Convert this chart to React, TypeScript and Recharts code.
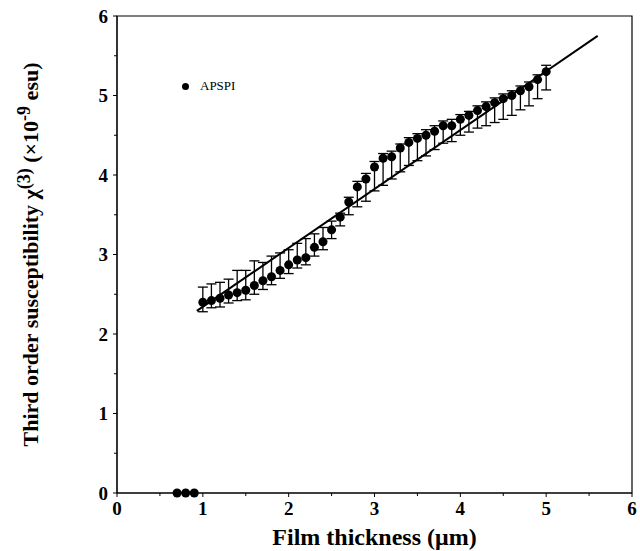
import { ScatterChart, Scatter, XAxis, YAxis, ErrorBar, ReferenceArea, Legend } from 'recharts';

const SERIF = '"Liberation Serif", "Times New Roman", serif';

// measured APSPI films
const thickness = [
  1.0, 1.1, 1.2, 1.3, 1.4, 1.5, 1.6, 1.7, 1.8, 1.9,
  2.0, 2.1, 2.2, 2.3, 2.4, 2.5, 2.6, 2.7, 2.8, 2.9,
  3.0, 3.1, 3.2, 3.3, 3.4, 3.5, 3.6, 3.7, 3.8, 3.9,
  4.0, 4.1, 4.2, 4.3, 4.4, 4.5, 4.6, 4.7, 4.8, 4.9, 5.0,
];
const chi3 = [
  2.40, 2.42, 2.45, 2.49, 2.52, 2.55, 2.61, 2.67, 2.72, 2.80,
  2.87, 2.93, 2.96, 3.09, 3.16, 3.31, 3.47, 3.66, 3.85, 3.95,
  4.10, 4.21, 4.23, 4.34, 4.41, 4.46, 4.50, 4.55, 4.62, 4.62,
  4.70, 4.75, 4.81, 4.86, 4.91, 4.96, 5.00, 5.06, 5.11, 5.20, 5.30,
];
// error bar ends
const barLow = [
  2.28, 2.33, 2.34, 2.39, 2.42, 2.43, 2.50, 2.56, 2.62, 2.70,
  2.76, 2.83, 2.87, 2.98, 3.06, 3.20, 3.36, 3.50, 3.60, 3.67,
  3.80, 3.87, 3.95, 4.04, 4.12, 4.18, 4.24, 4.32, 4.40, 4.42,
  4.50, 4.54, 4.59, 4.62, 4.66, 4.70, 4.75, 4.82, 4.87, 4.96, 5.07,
];
const barHigh = [
  2.59, 2.63, 2.65, 2.69, 2.80, 2.80, 2.92, 2.90, 2.98, 3.02,
  3.06, 3.14, 3.20, 3.26, 3.34, 3.42, 3.52, 3.72, 3.92, 4.02,
  4.17, 4.27, 4.30, 4.39, 4.47, 4.52, 4.57, 4.62, 4.68, 4.70,
  4.76, 4.80, 4.87, 4.92, 4.97, 5.02, 5.06, 5.12, 5.17, 5.26, 5.38,
];

// thin films with no signal
const zeroThickness = [0.7, 0.8, 0.9];
const zeroChi3 = [0, 0, 0];

// linear fit
const fitThickness = [0.93, 5.6];
const fitChi3 = [2.29, 5.75];

const axisTicks = [0, 0.5, 1, 1.5, 2, 2.5, 3, 3.5, 4, 4.5, 5, 5.5, 6];

const data = thickness.map((x, i) => ({
  x,
  y: chi3[i],
  err: [chi3[i] - barLow[i], barHigh[i] - chi3[i]],
}));
const zeroData = zeroThickness.map((x, i) => ({ x, y: zeroChi3[i] }));
const fitData = fitThickness.map((x, i) => ({ x, y: fitChi3[i] }));

const XTick = ({ x, y, payload }: any) => {
  const major = Number.isInteger(payload.value);
  return (
    <g>
      <line x1={x} x2={x} y1={y} y2={y + (major ? 4 : 3)} stroke="#000" />
      {major && (
        <text x={x} y={y + 22} textAnchor="middle" fontFamily={SERIF} fontWeight="bold" fontSize={19} fill="#000">
          {payload.value}
        </text>
      )}
    </g>
  );
};

const YTick = ({ x, y, payload }: any) => {
  const major = Number.isInteger(payload.value);
  return (
    <g>
      <line x1={x} x2={x - (major ? 4 : 3)} y1={y} y2={y} stroke="#000" />
      {major && (
        <text x={x - 9} y={y + 6.5} textAnchor="end" fontFamily={SERIF} fontWeight="bold" fontSize={19} fill="#000">
          {payload.value}
        </text>
      )}
    </g>
  );
};

const XLabel = ({ viewBox }: any) => (
  <text
    x={viewBox.x + viewBox.width / 2}
    y={viewBox.y + 52}
    textAnchor="middle"
    fontFamily={SERIF}
    fontWeight="bold"
    fontSize={24}
    fill="#000"
  >
    Film thickness (μm)
  </text>
);

const YLabel = ({ viewBox }: any) => {
  const cx = 38;
  const cy = viewBox.y + viewBox.height / 2;
  return (
    <text
      x={cx}
      y={cy}
      transform={`rotate(-90, ${cx}, ${cy})`}
      textAnchor="middle"
      fontFamily={SERIF}
      fontWeight="bold"
      fontSize={22}
      fill="#000"
    >
      Third order susceptibility χ
      <tspan dy={-8} fontSize={18}>(3)</tspan>
      <tspan dy={8}> (×10</tspan>
      <tspan dy={-8} fontSize={18}>-9</tspan>
      <tspan dy={8}> esu)</tspan>
    </text>
  );
};

const LegendBox = () => (
  <div style={{ display: 'flex', alignItems: 'center', fontFamily: SERIF, fontSize: 13, color: '#000' }}>
    <span style={{ width: 7, height: 7, borderRadius: '50%', background: '#000', marginRight: 11 }} />
    APSPI
  </div>
);

export default function App() {
  return (
    <div style={{ position: 'absolute', left: 0, top: 0, background: '#fff' }}>
      <ScatterChart width={640} height={551} margin={{ top: 16, right: 8, bottom: 0, left: 0 }}>
        <XAxis
          type="number"
          dataKey="x"
          domain={[0, 6]}
          ticks={axisTicks}
          interval={0}
          height={58}
          tickLine={false}
          tickSize={0}
          tickMargin={0}
          axisLine={{ stroke: '#000' }}
          tick={<XTick />}
          label={XLabel}
        />
        <YAxis
          type="number"
          dataKey="y"
          domain={[0, 6]}
          ticks={axisTicks}
          interval={0}
          width={117}
          tickLine={false}
          tickSize={0}
          tickMargin={0}
          axisLine={{ stroke: '#000' }}
          tick={<YTick />}
          label={YLabel}
        />
        <ReferenceArea x1={0} x2={6} y1={0} y2={6} fill="none" stroke="#000" strokeWidth={1.2} />
        <Scatter data={fitData} line={{ stroke: '#000', strokeWidth: 2 }} shape={() => <g />} isAnimationActive={false} />
        <Scatter data={data} fill="#000" isAnimationActive={false}>
          <ErrorBar dataKey="err" direction="y" width={5} stroke="#000" strokeWidth={1.3} />
        </Scatter>
        <Scatter data={zeroData} fill="#000" isAnimationActive={false} />
        <Legend
          layout="vertical"
          align="center"
          verticalAlign="middle"
          content={LegendBox}
          wrapperStyle={{ left: 182, top: 78, width: 'auto' }}
        />
      </ScatterChart>
    </div>
  );
}
